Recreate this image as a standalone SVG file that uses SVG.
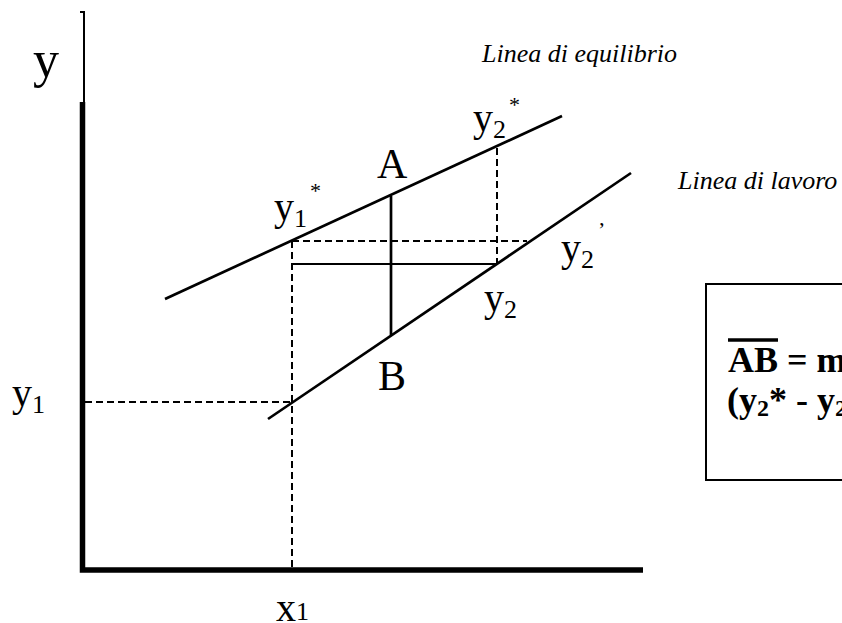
<svg xmlns="http://www.w3.org/2000/svg" width="842" height="623" viewBox="0 0 842 623">
<style>
  text { font-family: "Liberation Serif", "Times New Roman", serif; fill: #000; }
  .lbl { font-size: 40px; }
  .big { font-size: 42px; }
  .sub { font-size: 26px; }
  .ast { font-size: 22px; }
  .it { font-size: 26px; font-style: italic; }
  .bold { font-weight: bold; font-size: 36px; }
  .solid { stroke: #000; stroke-width: 2.7; fill: none; }
  .thin { stroke: #000; stroke-width: 2.2; fill: none; }
  .dash { stroke: #000; stroke-width: 2; stroke-dasharray: 7 4; fill: none; }
</style>
<rect width="842" height="623" fill="#fff"/>
<g id="axes">
  <path d="M80 12 H84 V102" stroke="#000" stroke-width="2" fill="none"/>
  <path d="M82.5 102 V570 H643" stroke="#000" stroke-width="5.5" fill="none" stroke-linejoin="miter"/>
  <text class="lbl" x="33" y="77" style="font-size:52px">y</text>
  <text class="lbl" x="12" y="406">y<tspan class="sub" dy="7">1</tspan></text>
  <text class="lbl" x="276" y="621">x<tspan class="sub" dy="-1">1</tspan></text>
</g>
<g id="connectors">
  <line class="dash" x1="292" y1="241" x2="292" y2="567"/>
  <line class="dash" x1="292" y1="241" x2="527" y2="241"/>
  <line class="dash" x1="497" y1="148" x2="497" y2="264"/>
  <line class="dash" x1="85" y1="402" x2="292" y2="402"/>
  <line class="thin" x1="292" y1="264" x2="497" y2="264"/>
  <line class="solid" x1="391" y1="196" x2="391" y2="335"/>
</g>
<g id="linea-equilibrio">
  <line class="solid" x1="165" y1="299" x2="562" y2="116"/>
  <text class="it" x="482" y="62">Linea di equilibrio</text>
</g>
<g id="linea-lavoro">
  <line class="solid" x1="268" y1="419" x2="631" y2="173"/>
  <text class="it" x="678" y="189">Linea di lavoro</text>
</g>
<g id="point-A">
  <text class="big" x="377" y="178">A</text>
</g>
<g id="point-B">
  <text class="big" x="378" y="390">B</text>
</g>
<g id="label-y1star">
  <text class="lbl" x="274" y="220">y<tspan class="sub" dy="7">1</tspan></text>
  <text class="ast" x="310" y="198">*</text>
</g>
<g id="label-y2star">
  <text class="lbl" x="473" y="131">y<tspan class="sub" dy="7">2</tspan></text>
  <text class="ast" x="509" y="112">*</text>
</g>
<g id="label-y2prime">
  <text class="lbl" x="561" y="261">y<tspan class="sub" dy="7">2</tspan></text>
  <text class="ast" x="598" y="237">’</text>
</g>
<g id="label-y2">
  <text class="lbl" x="484" y="311">y<tspan class="sub" dy="7">2</tspan></text>
</g>
<g id="formula-box">
  <rect x="706" y="284" width="200" height="196" fill="none" stroke="#000" stroke-width="2"/>
  <line x1="728" y1="340" x2="778" y2="340" stroke="#000" stroke-width="3.5"/>
  <text class="bold" x="728" y="372">AB = m</text>
  <text class="bold" x="727" y="412">(y<tspan style="font-size:24px" dy="4">2</tspan><tspan dy="-4">* - y</tspan><tspan style="font-size:24px" dy="4">2</tspan></text>
</g>
</svg>
